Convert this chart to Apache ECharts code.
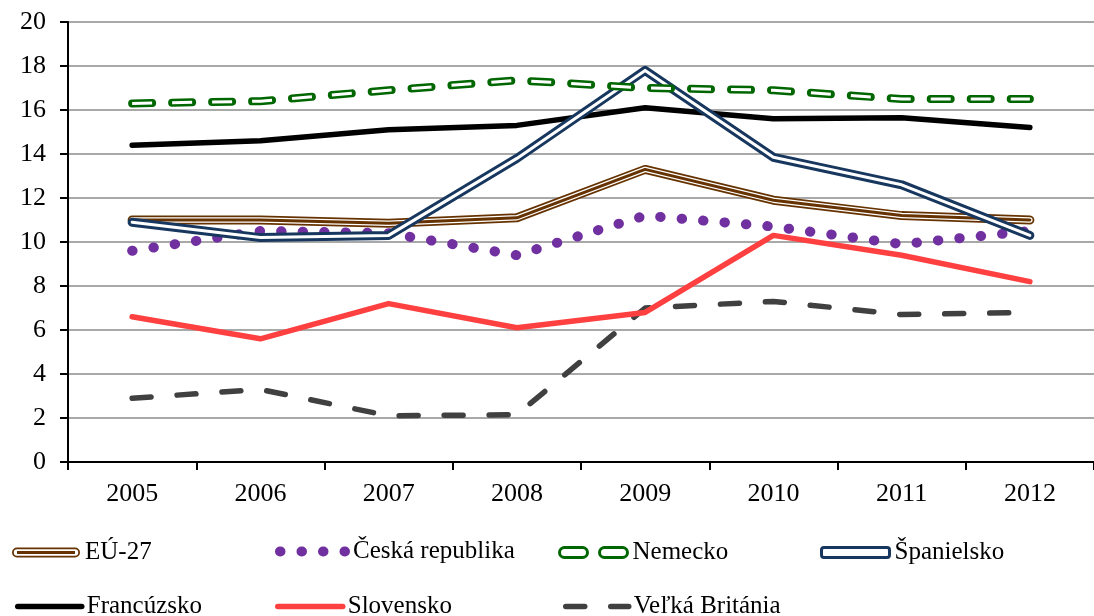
<!DOCTYPE html>
<html>
<head>
<meta charset="utf-8">
<script src="https://cdn.jsdelivr.net/npm/echarts@6/dist/echarts.min.js"></script>
<style>
  html, body { margin: 0; padding: 0; background: #fff; }
  #chart { width: 1094px; height: 616px; }
</style>
</head>
<body>
<div id="chart"></div>
<script>
var years = ['2005', '2006', '2007', '2008', '2009', '2010', '2011', '2012'];
var eu27 = [11.0, 11.0, 10.85, 11.1, 13.3, 11.9, 11.2, 11.0];
var cesko = [9.6, 10.5, 10.4, 9.4, 11.2, 10.7, 9.9, 10.5];
var nemecko = [16.3, 16.4, 16.9, 17.35, 17.0, 16.9, 16.5, 16.5];
var spanielsko = [10.9, 10.2, 10.3, 13.8, 17.8, 13.85, 12.6, 10.3];
var francuzsko = [14.4, 14.6, 15.1, 15.3, 16.1, 15.6, 15.65, 15.2];
var slovensko = [6.6, 5.6, 7.2, 6.1, 6.8, 10.3, 9.4, 8.2];
var britania = [2.9, 3.3, 2.1, 2.15, 7.0, 7.3, 6.7, 6.8];

var font = '"Liberation Serif", "Times New Roman", serif';

function line(name, data, color, width, type, cap) {
    return {
        name: name,
        type: 'line',
        data: data,
        symbol: 'none',
        silent: true,
        emphasis: { disabled: true },
        lineStyle: { color: color, width: width, type: type || 'solid', cap: cap || 'round', join: 'round' },
        itemStyle: { color: color }
    };
}

// legend with a shape icon (double lines)
function legendIcon(name, left, top, width, icon, style) {
    return {
        data: [{ name: name, icon: icon, itemStyle: style }],
        left: left, top: top, padding: 0,
        itemWidth: width, itemHeight: 10,
        selectedMode: false,
        textStyle: { fontFamily: font, fontSize: 25, color: '#000' }
    };
}

// legend drawn as a plain line (the tiny symbol is made transparent)
function legendLine(name, left, top, width, color, lw, type) {
    return {
        data: [name],
        left: left, top: top, padding: 0,
        itemWidth: width, itemHeight: 1,
        selectedMode: false,
        itemStyle: { color: 'rgba(0,0,0,0)', borderWidth: 0 },
        lineStyle: { color: color, width: lw, type: type || 'solid', cap: 'round' },
        textStyle: { fontFamily: font, fontSize: 25, color: '#000' }
    };
}

var euIcon = 'path://M5,0 L63,0 A5,5 0 0 1 63,10 L5,10 A5,5 0 0 1 5,0 Z ' +
    'M5,1.8 A3.2,3.2 0 0 0 5,8.2 L63,8.2 A3.2,3.2 0 0 0 63,1.8 Z ' +
    'M5,3.6 L63,3.6 L63,6.4 L5,6.4 Z';
var twoRects = 'path://M5,0 L23,0 A5,5 0 0 1 23,10 L5,10 A5,5 0 0 1 5,0 Z M45,0 L63,0 A5,5 0 0 1 63,10 L45,10 A5,5 0 0 1 45,0 Z';

var chart = echarts.init(document.getElementById('chart'));
chart.setOption({
    animation: false,
    grid: { left: 68, top: 22, width: 1040, height: 440 },
    xAxis: {
        type: 'category',
        data: years,
        boundaryGap: true,
        axisLine: { lineStyle: { color: '#000', width: 2 } },
        axisTick: { show: true, length: 8, lineStyle: { color: '#000', width: 2 } },
        axisLabel: { fontFamily: font, fontSize: 26, color: '#000', margin: 19 }
    },
    yAxis: {
        type: 'value',
        min: 0,
        max: 20,
        interval: 2,
        axisLine: { show: true, lineStyle: { color: '#000', width: 2 } },
        axisTick: { show: true, length: 8, lineStyle: { color: '#000', width: 2 } },
        axisLabel: { fontFamily: font, fontSize: 26, color: '#000', margin: 22 },
        splitLine: { lineStyle: { color: '#8c8c8c', width: 1.5 } }
    },
    legend: [
        legendIcon('EÚ-27', 12, 540, 68, euIcon, { color: '#663300', borderWidth: 0 }),
        legendLine('Česká republika', 275, 539, 68, '#7030a0', 10, [0.5, 21]),
        legendIcon('Nemecko', 558, 540, 68, twoRects, { color: '#fff', borderColor: '#006600', borderWidth: 3 }),
        legendIcon('Španielsko', 820, 540, 68, 'roundRect', { color: '#fff', borderColor: '#17375e', borderWidth: 3 }),
        legendLine('Francúzsko', 15, 594, 64, '#000000', 5.5),
        legendLine('Slovensko', 275, 594, 65, '#ff4040', 5.5),
        legendLine('Veľká Británia', 563, 594, 63, '#404040', 5.5, [19, 26])
    ],
    series: [
        line('Veľká Británia', britania, '#404040', 5.5, [19, 26]),
        line('Slovensko', slovensko, '#ff4040', 5.5),
        line('Francúzsko', francuzsko, '#000000', 5.5),
        line('Česká republika', cesko, '#7030a0', 10, [0.5, 21]),
        line('EÚ-27', eu27, '#663300', 9),
        line('EÚ-27 biela', eu27, '#ffffff', 5.5),
        line('EÚ-27 stred', eu27, '#663300', 3),
        line('Španielsko', spanielsko, '#17375e', 9),
        line('Španielsko biela', spanielsko, '#ffffff', 3),
        line('Nemecko', nemecko, '#006600', 8, [20, 20]),
        line('Nemecko biela', nemecko, '#ffffff', 3, [20, 20], 'butt')
    ]
});
</script>
</body>
</html>
